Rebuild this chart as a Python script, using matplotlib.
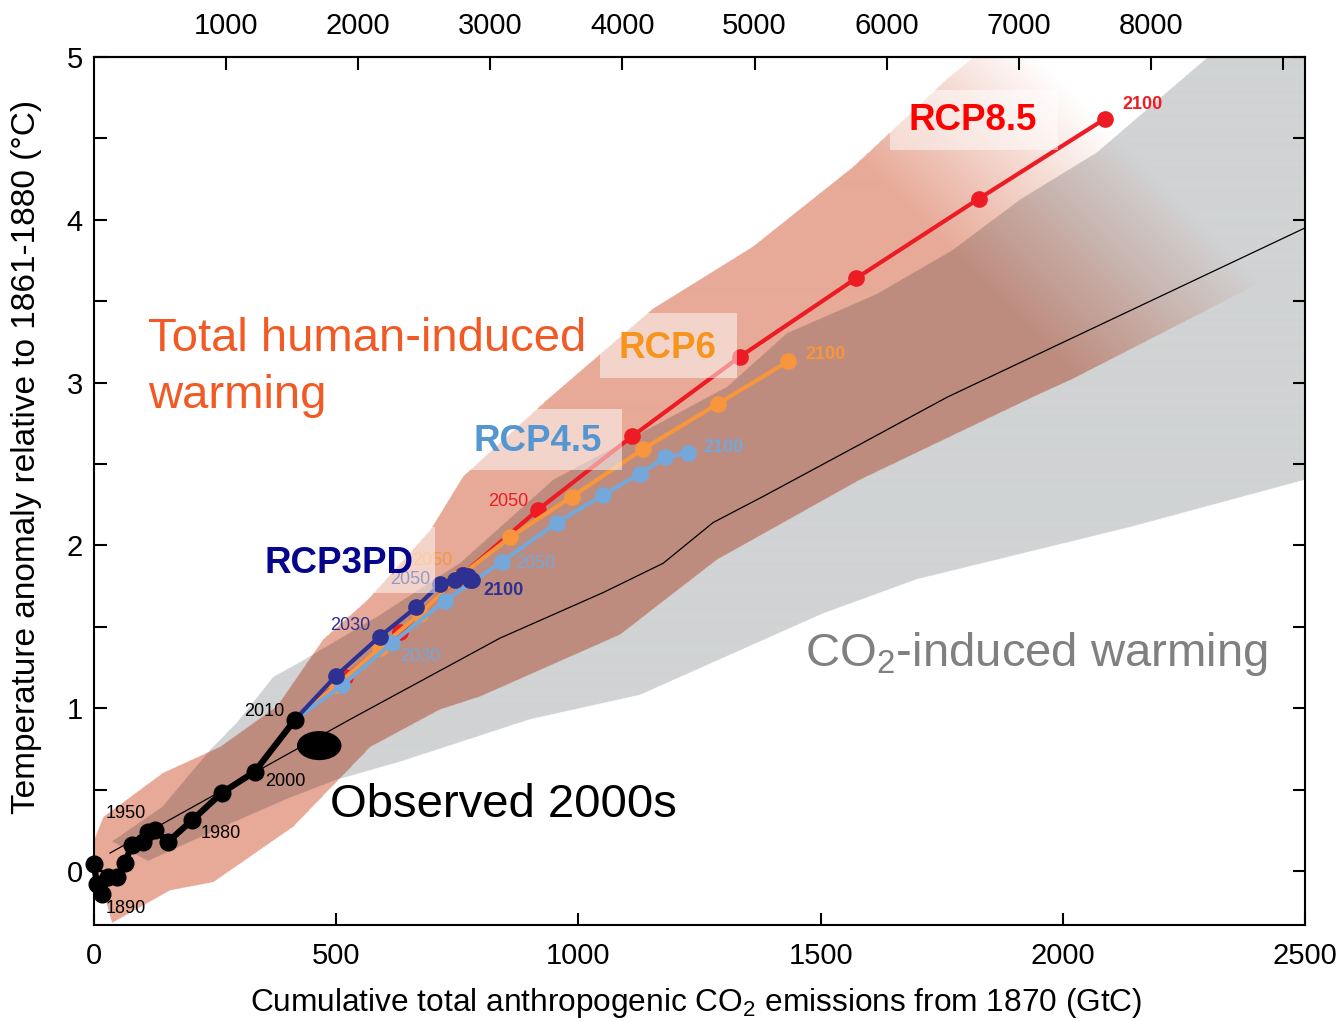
import numpy as np
import matplotlib.pyplot as plt
from matplotlib.path import Path
from matplotlib.patches import Ellipse, Rectangle

plt.rcParams['font.family'] = ['Liberation Sans', 'DejaVu Sans']
plt.rcParams['mathtext.fontset'] = 'custom'
plt.rcParams['mathtext.rm'] = 'Liberation Sans'
plt.rcParams['mathtext.it'] = 'Liberation Sans:italic'
plt.rcParams['mathtext.bf'] = 'Liberation Sans:bold'

# observed decadal means, 1870-2010 (cumulative GtC, degC)
hist_years = list(range(1870, 2011, 10))
hist_cum = [0, 6, 17, 29, 47, 64, 78, 101, 111, 126, 153, 202, 264, 332, 415]
hist_temp = [0.04, -0.08, -0.14, -0.04, -0.04, 0.05, 0.16, 0.18, 0.24, 0.25, 0.18, 0.31, 0.48, 0.61, 0.93]

# RCP multi-model means, 2010-2100 by decade
rcp_years = list(range(2010, 2101, 10))
rcp85_cum = [415, 518, 632, 760, 917, 1111, 1334, 1573, 1827, 2087]
rcp85_temp = [0.93, 1.19, 1.47, 1.82, 2.22, 2.67, 3.16, 3.64, 4.13, 4.62]
rcp6_cum = [415, 500, 590, 673, 751, 859, 987, 1133, 1288, 1433]
rcp6_temp = [0.93, 1.14, 1.37, 1.58, 1.80, 2.05, 2.30, 2.59, 2.87, 3.13]
rcp45_cum = [415, 512, 615, 725, 842, 956, 1051, 1127, 1179, 1226]
rcp45_temp = [0.93, 1.14, 1.40, 1.66, 1.90, 2.14, 2.31, 2.44, 2.54, 2.57]
rcp3pd_cum = [415, 500, 590, 665, 714, 745, 762, 772, 776, 780]
rcp3pd_temp = [0.93, 1.20, 1.44, 1.62, 1.76, 1.79, 1.82, 1.81, 1.79, 1.79]

# 1% per year CO2 runs: mean and range
co2_mean_cum = [33, 528, 838, 1051, 1175, 1278, 1381, 1581, 1761, 2500]
co2_mean_temp = [0.11, 0.93, 1.43, 1.71, 1.89, 2.14, 2.30, 2.62, 2.91, 3.95]
co2_up_cum = [37, 140, 239, 295, 370, 425, 590, 756, 948, 1307, 1431, 1616, 1773, 1912, 2071, 2298, 2531]
co2_up_temp = [0.18, 0.39, 0.74, 0.91, 1.19, 1.28, 1.57, 1.89, 2.40, 2.97, 3.30, 3.54, 3.81, 4.12, 4.41, 4.99, 5.60]
co2_lo_cum = [111, 266, 405, 502, 632, 900, 1127, 1505, 1699, 2139, 2500, 2572]
co2_lo_temp = [0.06, 0.27, 0.45, 0.56, 0.67, 0.93, 1.08, 1.58, 1.79, 2.11, 2.40, 2.52]

# RCP (total human-induced) range
rcp_up_cum = [0, 19, 142, 260, 378, 473, 564, 694, 762, 935, 1154, 1360, 1567, 1643, 1761, 1819, 1953, 2700]
rcp_up_temp = [0.19, 0.33, 0.60, 0.76, 1.01, 1.42, 1.66, 2.09, 2.42, 2.89, 3.45, 3.83, 4.32, 4.53, 4.86, 5.00, 5.47, 6.00]
rcp_lo_cum = [0, 37, 157, 246, 411, 570, 714, 797, 1086, 1286, 1581, 1947, 2021, 2434, 2500, 2700]
rcp_lo_temp = [0.07, -0.32, -0.12, -0.07, 0.27, 0.76, 0.99, 1.07, 1.45, 1.91, 2.40, 2.92, 3.02, 3.65, 3.74, 4.00]

obs_2000s = (465, 0.77)

red = '#ed1c24'
orange = '#f7963c'
blue = '#74a7da'
navy = '#2e3192'

fig = plt.figure(figsize=(13.39, 10.21), dpi=100)
ax = fig.add_axes([94 / 1339, 1 - 925 / 1021, 1211 / 1339, 868 / 1021])

xmin, xmax, ymin, ymax = 0, 2500, -0.332, 5.0

# shaded plumes, multiply-blended so the overlap turns brown
nx, ny = 2422, 1736
gx = np.linspace(xmin, xmax, nx)
gy = np.linspace(ymin, ymax, ny)
X, Y = np.meshgrid(gx, gy)
pts = np.column_stack([X.ravel(), Y.ravel()])

gray_poly = list(zip(co2_up_cum, co2_up_temp)) + list(zip(co2_lo_cum[::-1], co2_lo_temp[::-1]))
red_poly = list(zip(rcp_up_cum, rcp_up_temp)) + list(zip(rcp_lo_cum[::-1], rcp_lo_temp[::-1]))
in_gray = Path(gray_poly).contains_points(pts).reshape(ny, nx)
in_red = Path(red_poly).contains_points(pts).reshape(ny, nx)

# red plume fades out towards the upper right
s = 0.4844 * X + 162.8 * Y - 1627
fade = np.clip((130 - s) / 280, 0, 1)
a = (in_red * fade)[..., None]

img = np.ones((ny, nx, 3))
img[in_gray] = np.array([209, 211, 212]) / 255
salmon = np.array([232, 170, 152]) / 255
img = img * (1 - a + a * salmon)
ax.imshow(img, extent=[xmin, xmax, ymin, ymax], origin='lower', aspect='auto',
          zorder=0, interpolation='antialiased')

ax.plot(co2_mean_cum, co2_mean_temp, color='k', lw=0.9, zorder=2)

for cum, temp, col in [(rcp85_cum, rcp85_temp, red), (rcp6_cum, rcp6_temp, orange),
                       (rcp45_cum, rcp45_temp, blue), (rcp3pd_cum, rcp3pd_temp, navy)]:
    ax.plot(cum, temp, '-o', color=col, lw=3, ms=11, zorder=4)

ax.plot(hist_cum, hist_temp, '-o', color='k', lw=4.5, ms=12, zorder=6, clip_on=False)
ax.add_patch(Ellipse(obs_2000s, 89, 0.17, color='k', zorder=6))

# year labels
def ylab(x, y, t, c, bold=False):
    ax.text(x, y, t, color=c, fontsize=13, ha='center', va='center',
            fontweight='bold' if bold else 'normal', zorder=7)

ylab(66, -0.23, '1890', 'k')
ylab(66, 0.35, '1950', 'k')
ylab(262, 0.23, '1980', 'k')
ylab(394, 0.55, '2000', 'k')
ylab(351, 0.98, '2010', 'k')
ylab(855, 2.27, '2050', red)
ylab(2164, 4.71, '2100', red, True)
ylab(698, 1.91, '2050', orange)
ylab(1511, 3.17, '2100', orange, True)
ylab(673, 1.32, '2030', blue)
ylab(910, 1.89, '2050', blue)
ylab(1299, 2.60, '2100', blue, True)
ylab(528, 1.51, '2030', navy)
ylab(652, 1.79, '2050', navy)
ylab(846, 1.72, '2100', navy, True)

# scenario name boxes
for (x0, x1, y0, y1) in [(1643, 1990, 4.43, 4.80), (1045, 1327, 3.03, 3.43),
                         (652, 1090, 2.46, 2.84), (308, 704, 1.71, 2.11)]:
    ax.add_patch(Rectangle((x0, y0), x1 - x0, y1 - y0, facecolor='white',
                           edgecolor='none', alpha=0.5, zorder=8))

bold = dict(fontsize=26.5, fontweight='bold', ha='center', va='center', zorder=9)
ax.text(1815, 4.61, 'RCP8.5', color='#ff0000', **bold)
ax.text(1183, 3.21, 'RCP6', color='#f7941d', **bold)
ax.text(915, 2.64, 'RCP4.5', color='#5496d2', **bold)
ax.text(506, 1.89, 'RCP3PD', color='#06068c', **bold)

ax.text(111, 3.27, 'Total human-induced', color='#f15a24', fontsize=34, va='center', zorder=9)
ax.text(111, 2.92, 'warming', color='#f15a24', fontsize=34, va='center', zorder=9)
ax.text(487, 0.405, 'Observed 2000s', color='k', fontsize=34, va='center', zorder=9)
ax.text(1468, 1.33, 'CO$_2$-induced warming', color='#808080', fontsize=34, va='center', zorder=9)

ax.set_xlim(xmin, xmax)
ax.set_ylim(ymin, ymax)
ax.set_xticks(np.arange(0, 2501, 500))
ax.set_yticks(range(0, 6))
ax.set_yticks(np.arange(0.5, 5, 1.0), minor=True)
ax.tick_params(which='both', direction='in', length=9, width=1.5, labelsize=21,
               top=False, right=True)
ax.tick_params(axis='x', pad=12)
ax.tick_params(axis='y', pad=8)
for sp in ax.spines.values():
    sp.set_linewidth(1.5)

secax = ax.secondary_xaxis('top', functions=(lambda c: c * 44 / 12, lambda c: c * 12 / 44))
secax.set_xticks(range(1000, 9001, 1000))
secax.set_xticklabels([str(v) for v in range(1000, 8001, 1000)] + [''])
secax.tick_params(direction='in', length=9, width=1.5, labelsize=21, pad=12)
secax.spines['top'].set_linewidth(1.5)

fig.text(696 / 1339, 1 - 1003 / 1021, 'Cumulative total anthropogenic CO$_2$ emissions from 1870 (GtC)',
         fontsize=22.8, ha='center', va='center')
fig.text(27 / 1339, 1 - 457 / 1021, 'Temperature anomaly relative to 1861-1880 (°C)',
         fontsize=24, ha='center', va='center', rotation=90)

fig.savefig('out.png', dpi=100)
